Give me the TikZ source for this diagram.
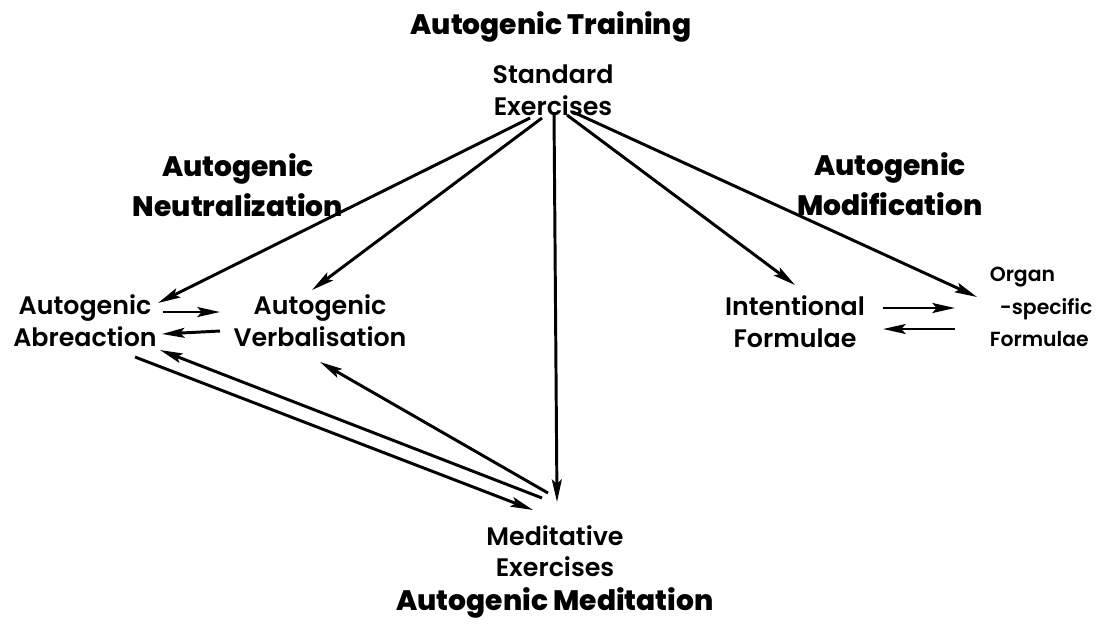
\documentclass[tikz,border=0pt]{standalone}
\usepackage{fontspec}
\setmainfont{Poppins}
\newfontfamily\itemfont{Poppins SemiBold}
\newfontfamily\headfont{Poppins ExtraBold}
\usepackage{tikz}
\usetikzlibrary{arrows.meta, positioning, calc}

\tikzset{
  head/.style={font=\headfont\fontsize{20}{28}\selectfont, align=center, inner sep=2pt},
  item/.style={font=\itemfont\fontsize{18}{22.5}\selectfont, align=center, inner sep=2pt},
  link/.style={-{Stealth[length=16pt, width=7pt, inset=3pt]}, line width=2.1pt},
}

\begin{document}
\begin{tikzpicture}[x=0.025cm, y=-0.025cm]
 \useasboundingbox (0,0) rectangle (1103,627);

 % Titles
 \node[head] (train) at (551,27) {Autogenic Training};
 \node[head] (neut) at (238,185) {Autogenic\\Neutralization};
 \node[head] (modif) at (890,184) {Autogenic\\Modification};
 \node[head] (medit) at (555,603) {Autogenic Meditation};

 % Exercises and methods
 \node[item] (std) at (553,90) {Standard\\Exercises};
 \node[item] (abr) at (85,321) {Autogenic\\Abreaction};
 \node[item] (verb) at (320,321) {Autogenic\\Verbalisation};
 \node[item] (intf) at (795,322) {Intentional\\Formulae};
 \node[item, font=\itemfont\fontsize{14.5}{23}\selectfont, align=left] (organ) at (1041,307) {Organ\\\hspace{0.5em}-specific\\Formulae};
 \node[item] (med) at (555,551) {Meditative\\Exercises};

 % From the standard exercises
 \draw[link] ($(std)+(-23,28)$) -- ($(abr)+(73,-18)$);
 \draw[link] ($(std)+(-11,28)$) -- ($(verb)+(-8,-31)$);
 \draw[link] ($(std)+(1,22)$) -- ($(med)+(2,-49)$);
 \draw[link] ($(std)+(14,25)$) -- ($(intf)+(0,-37)$);
 \draw[link] ($(std)+(20,22)$) -- ($(organ)+(-64,-10)$);

 % Between the pairs
 \draw[link] ($(abr)+(78,-9)$) -- ($(verb)+(-100,-9)$);
 \draw[link] ($(verb)+(-100,10)$) -- ($(abr)+(77,13)$);
 \draw[link] ($(intf)+(88,-14)$) -- ($(organ)+(-86,1)$);
 \draw[link] ($(organ)+(-86,22)$) -- ($(intf)+(88,7)$);

 % Back from the meditative exercises
 \draw[link] ($(med)+(-7,-58)$) -- ($(verb)+(0,41)$);
 \draw[link] ($(med)+(-13,-53)$) -- ($(abr)+(75,29)$);
 \draw[link] ($(abr)+(50,36)$) -- ($(med)+(-22,-41)$);
\end{tikzpicture}
\end{document}
